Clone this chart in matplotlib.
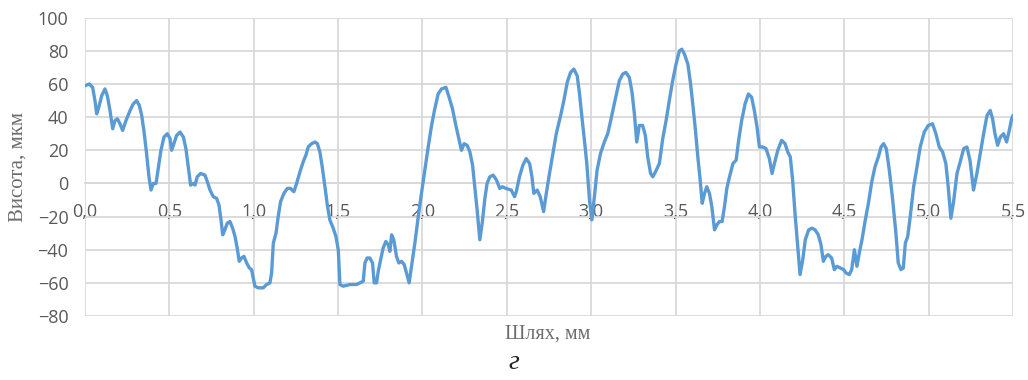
import numpy as np
import matplotlib
matplotlib.use("Agg")
import matplotlib.pyplot as plt

# -----------------------------------------------------------------------------
#                         Profile data
# -----------------------------------------------------------------------------

path_mm = [
    0.000, 0.026, 0.045, 0.059, 0.069, 0.079, 0.099, 0.118, 0.132, 0.148,
    0.164, 0.178, 0.192, 0.207, 0.223, 0.243, 0.267, 0.286, 0.306, 0.322,
    0.336, 0.350, 0.365, 0.379, 0.391, 0.405, 0.421, 0.434, 0.450, 0.468,
    0.488, 0.504, 0.513, 0.527, 0.543, 0.563, 0.583, 0.598, 0.612, 0.626,
    0.642, 0.652, 0.665, 0.685, 0.711, 0.725, 0.741, 0.760, 0.780, 0.794,
    0.806, 0.816, 0.829, 0.843, 0.859, 0.875, 0.889, 0.902, 0.914, 0.928,
    0.942, 0.958, 0.974, 0.987, 0.997, 1.007, 1.027, 1.056, 1.076, 1.096,
    1.106, 1.116, 1.132, 1.145, 1.159, 1.179, 1.199, 1.218, 1.238, 1.254,
    1.274, 1.293, 1.309, 1.323, 1.343, 1.363, 1.377, 1.392, 1.406, 1.422,
    1.436, 1.451, 1.471, 1.487, 1.501, 1.511, 1.530, 1.570, 1.609, 1.649,
    1.659, 1.672, 1.688, 1.704, 1.714, 1.728, 1.738, 1.752, 1.767, 1.783,
    1.797, 1.807, 1.817, 1.830, 1.846, 1.860, 1.876, 1.892, 1.905, 1.921,
    1.935, 1.955, 1.975, 1.994, 2.014, 2.034, 2.054, 2.073, 2.093, 2.113,
    2.139, 2.158, 2.178, 2.198, 2.218, 2.231, 2.247, 2.265, 2.281, 2.297,
    2.310, 2.324, 2.340, 2.354, 2.370, 2.383, 2.399, 2.419, 2.439, 2.458,
    2.474, 2.494, 2.526, 2.546, 2.556, 2.575, 2.595, 2.615, 2.635, 2.649,
    2.660, 2.680, 2.698, 2.718, 2.734, 2.753, 2.773, 2.793, 2.819, 2.838,
    2.858, 2.878, 2.897, 2.917, 2.931, 2.945, 2.960, 2.974, 2.990, 3.004,
    3.019, 3.035, 3.055, 3.078, 3.098, 3.118, 3.141, 3.167, 3.187, 3.206,
    3.226, 3.242, 3.256, 3.270, 3.285, 3.305, 3.321, 3.335, 3.352, 3.365,
    3.381, 3.404, 3.424, 3.444, 3.463, 3.483, 3.503, 3.523, 3.537, 3.553,
    3.573, 3.588, 3.602, 3.618, 3.632, 3.646, 3.658, 3.672, 3.685, 3.701,
    3.715, 3.731, 3.745, 3.760, 3.776, 3.790, 3.804, 3.820, 3.840, 3.859,
    3.874, 3.892, 3.912, 3.932, 3.951, 3.967, 3.983, 3.997, 4.017, 4.036,
    4.056, 4.072, 4.086, 4.106, 4.129, 4.149, 4.165, 4.180, 4.194, 4.208,
    4.224, 4.238, 4.254, 4.269, 4.289, 4.309, 4.327, 4.346, 4.362, 4.376,
    4.391, 4.405, 4.425, 4.441, 4.456, 4.476, 4.496, 4.510, 4.530, 4.544,
    4.560, 4.575, 4.589, 4.605, 4.623, 4.643, 4.663, 4.682, 4.702, 4.718,
    4.733, 4.749, 4.767, 4.787, 4.806, 4.820, 4.836, 4.850, 4.862, 4.876,
    4.891, 4.911, 4.931, 4.950, 4.974, 4.998, 5.023, 5.043, 5.063, 5.083,
    5.102, 5.116, 5.132, 5.148, 5.168, 5.187, 5.208, 5.227, 5.245, 5.266,
    5.286, 5.306, 5.326, 5.346, 5.365, 5.379, 5.393, 5.409, 5.425, 5.444,
    5.462, 5.478, 5.492, 5.500,
]

height_um = [
    59, 60, 58, 50, 42, 45, 53, 57, 53, 44,
    33, 38, 39, 36, 32, 38, 44, 48, 50, 47,
    41, 31, 18, 4, -4, 0, 0, 9, 20, 28,
    30, 27, 20, 24, 29, 31, 28, 21, 10, -1,
    0, -1, 4, 6, 5, 1, -4, -8, -9, -13,
    -22, -31, -28, -24, -23, -27, -32, -39, -47, -45,
    -44, -48, -51, -52, -57, -62, -63, -63, -61, -60,
    -54, -36, -30, -20, -11, -6, -3, -3, -5, 0,
    7, 13, 17, 22, 24, 25, 24, 19, 10, -2,
    -13, -22, -27, -32, -40, -61, -62, -61, -61, -59,
    -48, -45, -45, -48, -60, -60, -53, -46, -39, -35,
    -37, -41, -31, -34, -44, -48, -47, -49, -54, -60,
    -50, -36, -20, -6, 8, 22, 35, 45, 54, 57,
    58, 52, 45, 35, 26, 20, 24, 23, 19, 11,
    -2, -16, -34, -24, -9, 0, 4, 5, 2, -3,
    -2, -3, -4, -8, -5, 4, 11, 15, 12, 4,
    -6, -4, -8, -17, -6, 6, 18, 30, 41, 50,
    61, 67, 69, 65, 54, 40, 26, 12, -10, -22,
    -8, 8, 18, 25, 30, 39, 50, 62, 66, 67,
    64, 55, 42, 25, 35, 35, 29, 16, 6, 4,
    7, 12, 27, 38, 50, 62, 72, 80, 81, 78,
    72, 61, 48, 32, 16, 2, -12, -6, -2, -6,
    -14, -28, -25, -23, -23, -14, -3, 4, 12, 14,
    26, 38, 48, 54, 52, 44, 34, 22, 22, 21,
    15, 6, 12, 20, 26, 24, 19, 16, 2, -18,
    -38, -55, -46, -34, -28, -27, -28, -31, -37, -47,
    -44, -43, -45, -52, -50, -51, -52, -54, -55, -52,
    -40, -50, -42, -34, -23, -12, 1, 10, 16, 22,
    24, 21, 8, -10, -30, -48, -52, -51, -36, -32,
    -20, -2, 10, 22, 31, 35, 36, 30, 22, 19,
    12, -2, -21, -11, 6, 13, 21, 22, 14, -4,
    6, 18, 30, 41, 44, 39, 30, 23, 28, 30,
    25, 32, 39, 41,
]

x_ticks = [0.0, 0.5, 1.0, 1.5, 2.0, 2.5, 3.0, 3.5, 4.0, 4.5, 5.0, 5.5]
y_ticks = [-80, -60, -40, -20, 0, 20, 40, 60, 80, 100]

# -----------------------------------------------------------------------------
#                                   Plot
# -----------------------------------------------------------------------------

line_color = "#5B9BD5"
grid_color = "#D9D9D9"
text_color = "#595959"

fig = plt.figure(figsize=(10.28, 3.80), dpi=100)
ax = fig.add_axes([0.0827, 0.1684, 0.9027, 0.785])

ax.plot(path_mm, height_um, color=line_color, linewidth=2.4,
        solid_joinstyle="round", solid_capstyle="round", zorder=3)

ax.set_xlim(0, 5.5)
ax.set_ylim(-80, 100)
ax.set_xticks(x_ticks)
ax.set_yticks(y_ticks)
ax.set_xticklabels([f"{v:.1f}".replace(".", ",") for v in x_ticks])
ax.grid(True, color=grid_color, linewidth=1.3, zorder=0)

for s in ["top", "right", "left"]:
    ax.spines[s].set_visible(False)

# x labels sit under the zero line like in Excel
ax.spines["bottom"].set_position(("data", 0))
ax.spines["bottom"].set_color(grid_color)
ax.spines["bottom"].set_linewidth(1.3)

ax.tick_params(axis="both", length=0, labelsize=13, labelcolor=text_color)
ax.tick_params(axis="x", pad=14)
ax.tick_params(axis="y", pad=12)
for lab in ax.get_xticklabels() + ax.get_yticklabels():
    lab.set_family("Open Sans")

fig.text(0.018, 0.56, "Висота, мкм", rotation=90, ha="center", va="center",
         family="Liberation Serif", fontsize=15, color="#6d6d6d")
fig.text(0.533, 0.121, "Шлях, мм", ha="center", va="center",
         family="Liberation Serif", fontsize=14.5, color="#6d6d6d")
fig.text(0.5, 0.045, "г", ha="center", va="center", family="Liberation Serif",
         style="italic", fontsize=20, color="#222222")

fig.savefig("out.png", dpi=100, facecolor="white")
